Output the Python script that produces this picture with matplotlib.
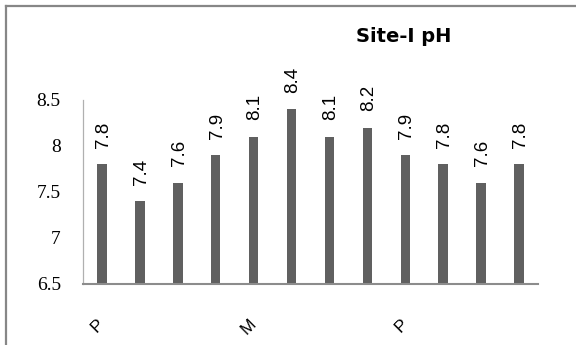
import matplotlib
matplotlib.use("Agg")
import matplotlib.pyplot as plt
from matplotlib.lines import Line2D

categories = ["P", "", "", "", "M", "", "", "", "P", "", "", ""]
values = [7.8, 7.4, 7.6, 7.9, 8.1, 8.4, 8.1, 8.2, 7.9, 7.8, 7.6, 7.8]
yticks = [6.5, 7, 7.5, 8, 8.5]
ytick_labels = ["6.5", "7", "7.5", "8", "8.5"]
title = "Site-I pH"

W, H = 576, 345
fig = plt.figure(figsize=(W / 100, H / 100), dpi=100)
ax = fig.add_axes([83 / W, 1 - 284 / H, (538 - 83) / W, (284 - 100) / H])

x = list(range(len(values)))
ax.bar(x, [v - 6.5 for v in values], bottom=6.5, width=0.25, color="#606060", zorder=2)
ax.set_xlim(-0.5, len(values) - 0.5)
ax.set_ylim(6.5, 8.5)

for xi, v in zip(x, values):
    ax.annotate(f"{v}", (xi, v), xytext=(1, 12), textcoords="offset points",
                rotation=90, ha="center", va="bottom", fontsize=13.5,
                family="Liberation Sans", color="#000000", annotation_clip=False)

ax.set_yticks(yticks)
ax.set_yticklabels(ytick_labels, family="Liberation Serif", fontsize=14)
ax.tick_params(axis="y", length=0, pad=16)
ax.set_xticks(x)
ax.set_xticklabels(categories, rotation=45, ha="right", va="center",
                   rotation_mode="anchor", family="Liberation Sans", fontsize=12.5)
ax.tick_params(axis="x", length=0, pad=27)

for s in ["top", "right"]:
    ax.spines[s].set_visible(False)
ax.spines["left"].set_color("#b0b0b0")
ax.spines["left"].set_linewidth(0.9)
ax.spines["bottom"].set_color("#8c8c8c")
ax.spines["bottom"].set_linewidth(1.5)

fig.text(404 / W, 1 - 37 / H, title, ha="center", va="center",
         fontsize=14, fontweight="bold", family="DejaVu Sans")

# chart-area border (top and left visible)
fig.add_artist(Line2D([6 / W, 1], [1 - 6 / H, 1 - 6 / H], transform=fig.transFigure,
                      color="#878787", linewidth=1.6))
fig.add_artist(Line2D([6 / W, 6 / W], [0, 1 - 6 / H], transform=fig.transFigure,
                      color="#878787", linewidth=1.6))

fig.savefig("out.png", dpi=100)
